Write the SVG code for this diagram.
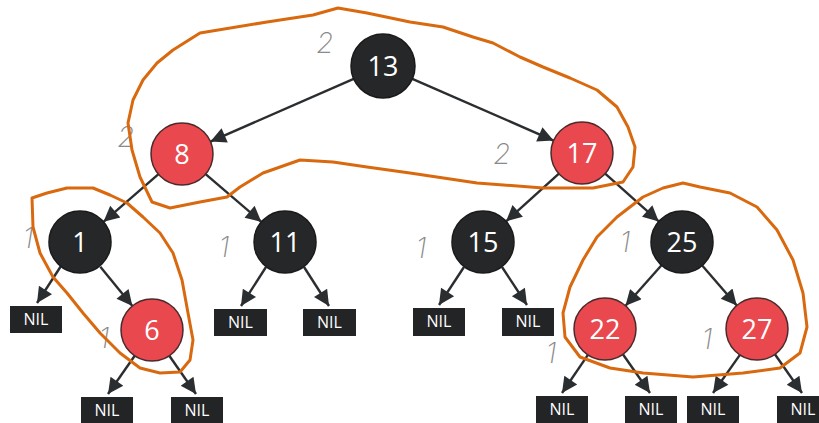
<svg xmlns="http://www.w3.org/2000/svg" width="819" height="423" viewBox="0 0 819 423">
  <defs>
    <marker id="head" viewBox="0 0 10 10" refX="10" refY="5" markerWidth="7.5" markerHeight="6.5" markerUnits="strokeWidth" orient="auto">
      <path d="M0,0 L10,5 L0,10 Z" fill="#2b2e31"/>
    </marker>
    <style>
      .edge { stroke: #2b2e31; stroke-width: 2.4; fill: none; marker-end: url(#head); }
      .black circle { fill: #262728; stroke: #1a1a1a; stroke-width: 1.5; }
      .red circle { fill: #e9484e; stroke: #4a2a2a; stroke-width: 1.5; }
      .node text { fill: #ffffff; font-family: "Open Sans", "DejaVu Sans", sans-serif; font-size: 27px; text-anchor: middle; }
      .nil rect { fill: #232425; }
      .nil text { fill: #ffffff; font-family: "Open Sans", "DejaVu Sans", sans-serif; font-size: 16px; text-anchor: middle; }
      .loop { fill: none; stroke: #d9690f; stroke-width: 3; stroke-linejoin: round; stroke-linecap: round; }
      .hand { fill: #8a8a8a; font-family: Inter, sans-serif; font-weight: 200; font-style: italic; font-size: 28px; text-anchor: middle; }
    </style>
  </defs>
  <rect width="819" height="423" fill="#ffffff"/>

  <!-- connectors -->
  <g id="edges">
    <line class="edge" x1="353.7" y1="78.8" x2="210.4" y2="141.6"/>
    <line class="edge" x1="412.3" y1="78.8" x2="553.6" y2="140.6"/>
    <line class="edge" x1="158.5" y1="174.2" x2="103.5" y2="221.8"/>
    <line class="edge" x1="205.6" y1="174.1" x2="261.4" y2="221.9"/>
    <line class="edge" x1="558.9" y1="173.7" x2="506.1" y2="221.3"/>
    <line class="edge" x1="605.2" y1="173.6" x2="658.8" y2="221.4"/>
    <line class="edge" x1="100.3" y1="266.8" x2="132.4" y2="306"/>
    <line class="edge" x1="61" y1="266" x2="37" y2="303"/>
    <line class="edge" x1="266" y1="267" x2="241" y2="306"/>
    <line class="edge" x1="304" y1="267" x2="329" y2="306"/>
    <line class="edge" x1="134.7" y1="355.7" x2="108" y2="394"/>
    <line class="edge" x1="169.3" y1="355.7" x2="196" y2="394"/>
    <line class="edge" x1="464" y1="267" x2="439" y2="305"/>
    <line class="edge" x1="502" y1="267" x2="527" y2="305"/>
    <line class="edge" x1="661.5" y1="265.2" x2="625.5" y2="305.8"/>
    <line class="edge" x1="702.2" y1="265.5" x2="736.8" y2="305.5"/>
    <line class="edge" x1="587.9" y1="354.9" x2="562" y2="393"/>
    <line class="edge" x1="622.9" y1="354.3" x2="650" y2="393"/>
    <line class="edge" x1="739.9" y1="354.9" x2="713" y2="393"/>
    <line class="edge" x1="774.9" y1="354.3" x2="802" y2="393"/>
  </g>

  <!-- tree nodes -->
  <g id="n13" class="node black"><circle cx="383" cy="66" r="32"/><text x="383" y="76">13</text></g>
  <g id="n8" class="node red"><circle cx="182" cy="154" r="31"/><text x="182" y="164">8</text></g>
  <g id="n17" class="node red"><circle cx="582" cy="153" r="31"/><text x="582" y="163">17</text></g>
  <g id="n1" class="node black"><circle cx="80" cy="242" r="31"/><text x="80" y="252">1</text></g>
  <g id="n11" class="node black"><circle cx="285" cy="242" r="31"/><text x="285" y="252">11</text></g>
  <g id="n6" class="node red"><circle cx="152" cy="330" r="31"/><text x="152" y="340">6</text></g>
  <g id="n15" class="node black"><circle cx="483" cy="242" r="31"/><text x="483" y="252">15</text></g>
  <g id="n25" class="node black"><circle cx="682" cy="242" r="31"/><text x="682" y="252">25</text></g>
  <g id="n22" class="node red"><circle cx="605" cy="329" r="31"/><text x="605" y="339">22</text></g>
  <g id="n27" class="node red"><circle cx="757" cy="329" r="31"/><text x="757" y="339">27</text></g>

  <!-- leaf sentinels -->
  <g id="nil1" class="nil"><rect x="10" y="306" width="52" height="27"/><text x="36" y="325">NIL</text></g>
  <g id="nil11a" class="nil"><rect x="214" y="309" width="53" height="27"/><text x="240.5" y="328">NIL</text></g>
  <g id="nil11b" class="nil"><rect x="303" y="309" width="53" height="27"/><text x="329.5" y="328">NIL</text></g>
  <g id="nil6a" class="nil"><rect x="81" y="397" width="52" height="27"/><text x="107" y="416">NIL</text></g>
  <g id="nil6b" class="nil"><rect x="171" y="397" width="52" height="27"/><text x="197" y="416">NIL</text></g>
  <g id="nil15a" class="nil"><rect x="413" y="308" width="52" height="28"/><text x="439" y="327">NIL</text></g>
  <g id="nil15b" class="nil"><rect x="502" y="308" width="52" height="28"/><text x="528" y="327">NIL</text></g>
  <g id="nil22a" class="nil"><rect x="536" y="396" width="52" height="27"/><text x="562" y="415">NIL</text></g>
  <g id="nil22b" class="nil"><rect x="625" y="396" width="52" height="27"/><text x="651" y="415">NIL</text></g>
  <g id="nil27a" class="nil"><rect x="687" y="396" width="52" height="27"/><text x="713" y="415">NIL</text></g>
  <g id="nil27b" class="nil"><rect x="777" y="396" width="52" height="27"/><text x="803" y="415">NIL</text></g>

  <!-- black-height annotations -->
  <g id="heights">
    <text class="hand" x="325" y="53">2</text>
    <text class="hand" x="126" y="147">2</text>
    <text class="hand" x="502" y="164">2</text>
    <text class="hand" x="28" y="248">1</text>
    <text class="hand" x="224" y="257">1</text>
    <text class="hand" x="104" y="348">1</text>
    <text class="hand" x="421" y="258">1</text>
    <text class="hand" x="625" y="252">1</text>
    <text class="hand" x="551" y="363">1</text>
    <text class="hand" x="707" y="349">1</text>
  </g>

  <!-- grouping loops -->
  <g id="loops">
    <path class="loop" d="M338,8 L313,15 L267,22 L200,33 L173,50 L157,63 L143,80 L133,100 L128,123 L132,150 L140,177 L152,202 L170,208 L200,202 L227,197 L240,187 L263,173 L300,160 L333,162 L367,167 L410,173 L477,183 L543,188 L593,188 L623,182 L633,167 L635,147 L628,127 L617,107 L597,90 L570,78 L543,67 L520,57 L493,43 L473,37 L443,27 L410,22 L367,13 Z"/>
    <path class="loop" d="M32,198 L47,193 L67,188 L93,188 L110,195 L127,203 L143,217 L160,233 L173,253 L182,280 L188,313 L193,340 L190,360 L180,372 L160,373 L140,368 L120,353 L100,333 L83,313 L67,293 L53,277 L40,253 L33,227 Z"/>
    <path class="loop" d="M683,183 L663,188 L643,197 L617,217 L597,237 L583,260 L570,287 L563,313 L565,337 L580,357 L610,368 L643,373 L693,377 L743,373 L780,368 L800,353 L807,327 L803,293 L793,260 L777,230 L757,207 L730,193 L700,187 Z"/>
  </g>
</svg>
